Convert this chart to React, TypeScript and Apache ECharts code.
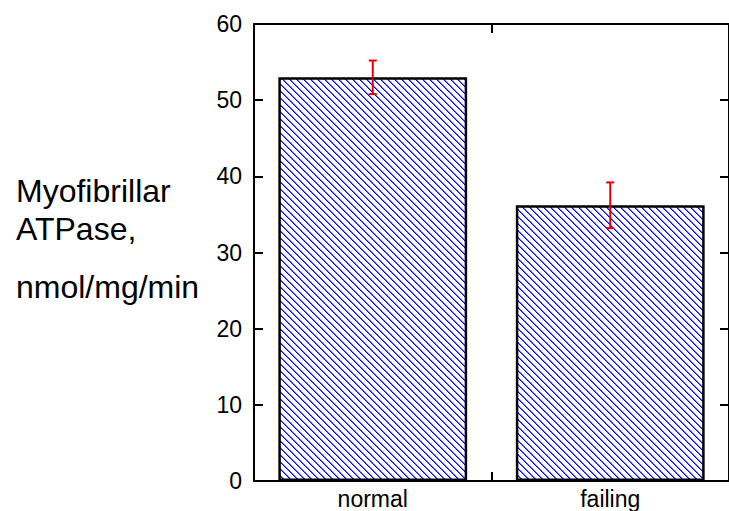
import React, { useEffect, useRef } from "react";
import * as echarts from "echarts";

const categories = ["normal", "failing"];
const values = [53.0, 36.2];
const errors = [2.2, 3.0];
const yTicks = [0, 10, 20, 30, 40, 50, 60];
const titleLines = ["Myofibrillar", "ATPase,", "nmol/mg/min"];

function makeHatch(): HTMLCanvasElement {
  const c = document.createElement("canvas");
  const n = 7;
  c.width = n;
  c.height = n;
  const ctx = c.getContext("2d")!;
  ctx.fillStyle = "#ffffff";
  ctx.fillRect(0, 0, n, n);
  for (let y = 0; y < n; y++) {
    for (let x = 0; x < n; x++) {
      const d = (((x - y) % n) + n) % n;
      if (d === 0) {
        ctx.fillStyle = "#0000ff";
        ctx.fillRect(x, y, 1, 1);
      } else if (d === 1) {
        ctx.fillStyle = "#6a6aff";
        ctx.fillRect(x, y, 1, 1);
      }
    }
  }
  return c;
}

export default function App() {
  const ref = useRef<HTMLDivElement>(null);
  useEffect(() => {
    document.body.style.margin = "0";
    const chart = echarts.init(ref.current!, null, { renderer: "svg" });
    const hatch = makeHatch();
    const font = "'Liberation Sans', Arial, sans-serif";
    const errData = values.map((v, i) => [i, v - errors[i], v + errors[i]]);
    const line = { show: true, onZero: false, lineStyle: { color: "#000", width: 2 } };
    const tickIn = { show: true, inside: true, length: 9, lineStyle: { color: "#000", width: 2 } };
    const catAxis = (position: string, labels: boolean) => ({
      type: "category",
      data: categories,
      position,
      boundaryGap: true,
      axisLine: line,
      axisTick: tickIn,
      axisLabel: labels
        ? { show: true, color: "#000", fontSize: 23, fontFamily: font, margin: 6 }
        : { show: false },
      splitLine: { show: false },
    });
    const valAxis = (position: string, labels: boolean) => ({
      type: "value",
      min: yTicks[0],
      max: yTicks[yTicks.length - 1],
      interval: 10,
      position,
      axisLine: line,
      axisTick: tickIn,
      axisLabel: labels
        ? { show: true, color: "#000", fontSize: 23, fontFamily: font, margin: 12, padding: [0, 0, 8, 0] }
        : { show: false },
      splitLine: { show: false },
    });
    chart.setOption({
      animation: false,
      backgroundColor: "#ffffff",
      grid: { left: 254, top: 24, width: 478, height: 457 },
      xAxis: [catAxis("bottom", true), catAxis("top", false)],
      yAxis: [valAxis("left", true), valAxis("right", false)],
      series: [
        {
          type: "bar",
          data: values,
          barWidth: "79.5%",
          itemStyle: {
            color: { image: hatch, repeat: "repeat", imageWidth: 7, imageHeight: 7 },
            borderColor: "#000",
            borderWidth: 2.5,
          },
          z: 2,
        },
        {
          type: "custom",
          data: errData,
          z: 5,
          renderItem: (params: any, api: any) => {
            const idx = api.value(0);
            const lo = api.coord([idx, api.value(1)]);
            const hi = api.coord([idx, api.value(2)]);
            const half = 4;
            const style = { stroke: "#e80000", lineWidth: 2 };
            return {
              type: "group",
              children: [
                { type: "line", shape: { x1: hi[0], y1: hi[1], x2: lo[0], y2: lo[1] }, style },
                { type: "line", shape: { x1: hi[0] - half, y1: hi[1], x2: hi[0] + half, y2: hi[1] }, style },
                { type: "line", shape: { x1: lo[0] - half, y1: lo[1], x2: lo[0] + half, y2: lo[1] }, style },
              ],
            };
          },
        },
      ],
      graphic: [
        { type: "text", left: 16, top: 175, style: { text: titleLines[0], font: `32px ${font}`, fill: "#000" } },
        { type: "text", left: 16, top: 213, style: { text: titleLines[1], font: `32px ${font}`, fill: "#000" } },
        { type: "text", left: 16, top: 271, style: { text: titleLines[2], font: `32px ${font}`, fill: "#000" } },
      ],
    });
    return () => chart.dispose();
  }, []);
  return <div ref={ref} style={{ width: 729, height: 511 }} />;
}
